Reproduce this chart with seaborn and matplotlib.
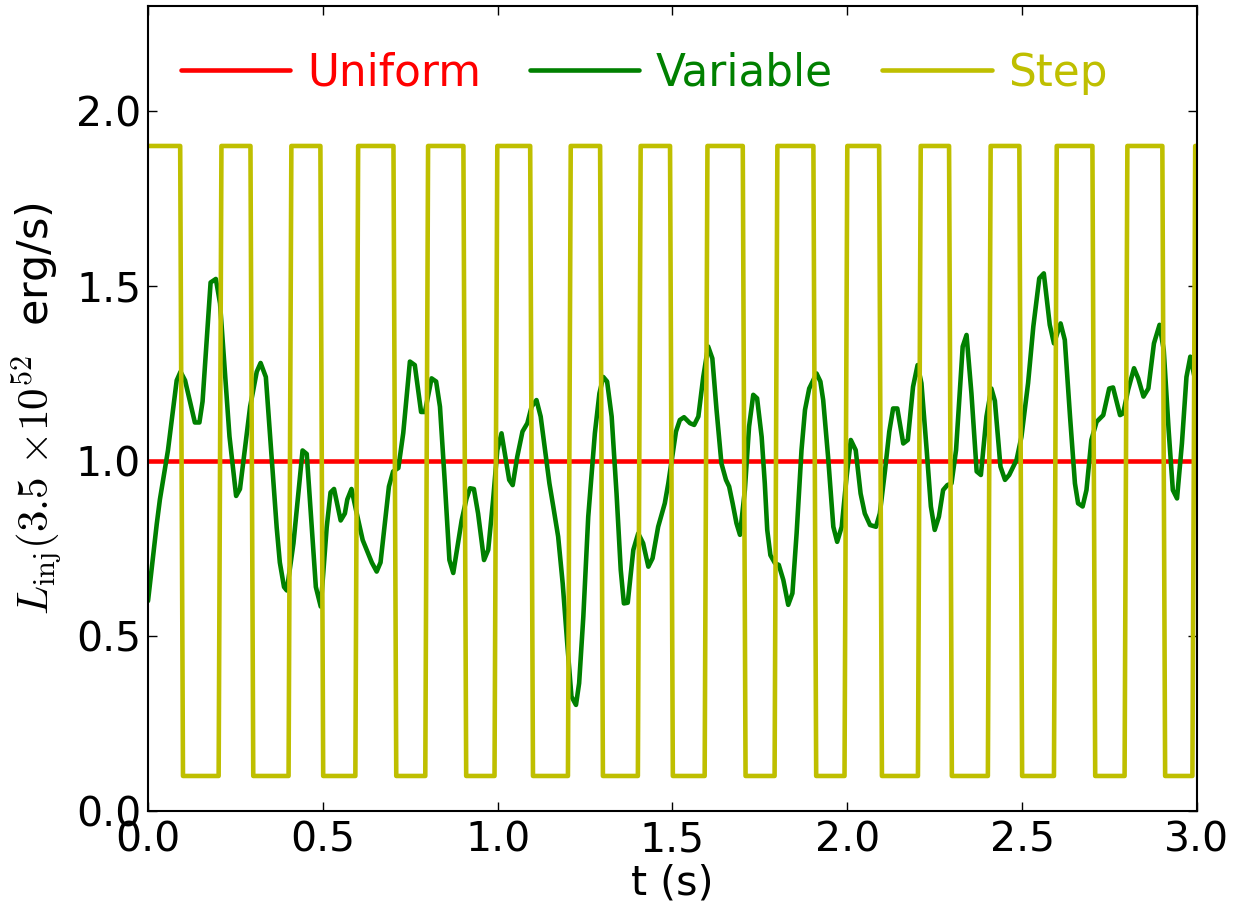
import numpy as np
import pandas as pd
import seaborn as sns
import matplotlib
matplotlib.use("Agg")
import matplotlib.pyplot as plt

# Uniform injection (constant)
uniform_t = [0.0, 3.0]
uniform_L = [1.0, 1.0]

# Variable injection, vertices
variable_t = [0.000, 0.025, 0.034, 0.057, 0.082, 0.093, 0.106, 0.134, 0.147, 0.156,
              0.179, 0.194, 0.206, 0.233, 0.252, 0.263, 0.292, 0.311, 0.322, 0.337,
              0.368, 0.377, 0.389, 0.397, 0.416, 0.442, 0.454, 0.480, 0.494, 0.511,
              0.522, 0.532, 0.551, 0.563, 0.570, 0.582, 0.597, 0.614, 0.640, 0.654,
              0.665, 0.689, 0.701, 0.716, 0.730, 0.749, 0.763, 0.781, 0.792, 0.811,
              0.824, 0.835, 0.849, 0.862, 0.873, 0.897, 0.911, 0.921, 0.932, 0.944,
              0.961, 0.973, 0.987, 0.999, 1.011, 1.033, 1.043, 1.056, 1.071, 1.085,
              1.097, 1.111, 1.123, 1.148, 1.159, 1.173, 1.186, 1.199, 1.211, 1.224,
              1.233, 1.245, 1.259, 1.278, 1.291, 1.302, 1.313, 1.326, 1.340, 1.352,
              1.361, 1.372, 1.388, 1.402, 1.416, 1.431, 1.443, 1.459, 1.478, 1.488,
              1.498, 1.510, 1.521, 1.533, 1.550, 1.562, 1.574, 1.588, 1.602, 1.614,
              1.626, 1.640, 1.653, 1.662, 1.672, 1.683, 1.693, 1.707, 1.719, 1.731,
              1.742, 1.755, 1.764, 1.771, 1.780, 1.793, 1.804, 1.817, 1.831, 1.843,
              1.855, 1.869, 1.879, 1.891, 1.912, 1.923, 1.931, 1.945, 1.960, 1.971,
              1.984, 1.998, 2.010, 2.024, 2.038, 2.050, 2.065, 2.082, 2.093, 2.108,
              2.120, 2.131, 2.143, 2.160, 2.173, 2.188, 2.201, 2.212, 2.227, 2.239,
              2.250, 2.262, 2.274, 2.286, 2.298, 2.311, 2.330, 2.341, 2.355, 2.370,
              2.382, 2.398, 2.412, 2.422, 2.438, 2.451, 2.463, 2.484, 2.498, 2.517,
              2.532, 2.549, 2.562, 2.579, 2.591, 2.610, 2.622, 2.637, 2.651, 2.660,
              2.673, 2.684, 2.698, 2.713, 2.732, 2.749, 2.760, 2.780, 2.789, 2.803,
              2.820, 2.832, 2.847, 2.861, 2.877, 2.893, 2.905, 2.919, 2.931, 2.943,
              2.957, 2.970, 2.981, 2.993, 3.000]
variable_L = [0.600, 0.820, 0.890, 1.030, 1.230, 1.255, 1.230, 1.110, 1.110, 1.170,
              1.510, 1.520, 1.450, 1.070, 0.900, 0.920, 1.155, 1.255, 1.280, 1.240,
              0.810, 0.710, 0.640, 0.630, 0.765, 1.030, 1.020, 0.640, 0.584, 0.810,
              0.910, 0.920, 0.830, 0.850, 0.890, 0.920, 0.850, 0.774, 0.710, 0.684,
              0.710, 0.927, 0.970, 0.980, 1.080, 1.284, 1.274, 1.140, 1.140, 1.236,
              1.227, 1.155, 0.936, 0.717, 0.680, 0.830, 0.893, 0.922, 0.920, 0.850,
              0.717, 0.746, 0.889, 1.031, 1.079, 0.946, 0.931, 1.012, 1.084, 1.108,
              1.155, 1.174, 1.127, 0.936, 0.870, 0.784, 0.650, 0.479, 0.327, 0.303,
              0.365, 0.555, 0.840, 1.079, 1.193, 1.240, 1.227, 1.127, 0.907, 0.689,
              0.593, 0.595, 0.746, 0.793, 0.765, 0.698, 0.722, 0.812, 0.879, 0.936,
              1.003, 1.084, 1.117, 1.125, 1.108, 1.103, 1.127, 1.240, 1.327, 1.293,
              1.146, 0.993, 0.946, 0.927, 0.879, 0.822, 0.789, 0.917, 1.098, 1.189,
              1.179, 1.069, 0.936, 0.803, 0.731, 0.708, 0.703, 0.660, 0.589, 0.622,
              0.793, 1.031, 1.146, 1.207, 1.250, 1.227, 1.174, 1.012, 0.812, 0.769,
              0.812, 0.955, 1.060, 1.031, 0.907, 0.850, 0.817, 0.812, 0.850, 0.974,
              1.084, 1.150, 1.150, 1.050, 1.060, 1.212, 1.274, 1.222, 1.031, 0.870,
              0.803, 0.841, 0.917, 0.931, 0.936, 1.031, 1.327, 1.360, 1.193, 0.970,
              0.960, 1.127, 1.207, 1.172, 0.984, 0.946, 0.960, 1.003, 1.069, 1.222,
              1.384, 1.522, 1.536, 1.389, 1.336, 1.393, 1.346, 1.127, 0.936, 0.879,
              0.870, 0.917, 1.060, 1.112, 1.131, 1.207, 1.210, 1.131, 1.136, 1.203,
              1.265, 1.236, 1.184, 1.207, 1.336, 1.389, 1.317, 1.088, 0.917, 0.893,
              1.050, 1.240, 1.298, 1.240, 1.200]

# Step injection: levels and switching times (edge centres)
step_high = 1.9
step_low = 0.1
step_fall = [0.096, 0.297, 0.497, 0.706, 0.906, 1.097, 1.297, 1.497, 1.705, 1.907,
             2.095, 2.295, 2.496, 2.705, 2.905]
step_rise = [0.206, 0.406, 0.597, 0.797, 0.995, 1.205, 1.405, 1.596, 1.796, 1.996,
             2.206, 2.406, 2.595, 2.797, 2.991]
half_edge = 0.004  # sampled edges are slightly slanted

step_t = [0.0]
step_L = [step_high]
for tf, tr in zip(step_fall, step_rise):
    step_t += [tf - half_edge, tf + half_edge, tr - half_edge, tr + half_edge]
    step_L += [step_high, step_low, step_low, step_high]
step_t.append(3.0)
step_L.append(step_high)

RED = '#ff0000'
GREEN = '#008000'
YELLOW = '#bfbf00'

sns.set_theme(style="white")
plt.rcParams['font.family'] = ['DejaVu Sans']
plt.rcParams['mathtext.fontset'] = 'cm'
plt.rcParams['text.color'] = 'black'
plt.rcParams['axes.labelcolor'] = 'black'
plt.rcParams['xtick.color'] = 'black'
plt.rcParams['ytick.color'] = 'black'

FS = 29.5
LEG_FS = 31.5

fig = plt.figure(figsize=(12.48, 9.05), dpi=100)
ax = fig.add_axes([0.1186, 0.1039, 0.8405, 0.8895])

sns.lineplot(x=uniform_t, y=uniform_L, ax=ax, color=RED, lw=3.3, label='Uniform',
             sort=False, estimator=None)
sns.lineplot(x=variable_t, y=variable_L, ax=ax, color=GREEN, lw=3.3, label='Variable',
             sort=False, estimator=None)
sns.lineplot(x=step_t, y=step_L, ax=ax, color=YELLOW, lw=3.3, label='Step',
             sort=False, estimator=None)

ax.set_xlim(0, 3.0)
ax.set_ylim(0, 2.3)
ax.set_xticks(np.arange(0, 3.01, 0.5))
ax.set_yticks(np.arange(0, 2.01, 0.5))
ax.set_xticklabels(['0.0', '0.5', '1.0', '1.5', '2.0', '2.5', '3.0'])
ax.set_yticklabels(['0.0', '0.5', '1.0', '1.5', '2.0'])

for s in ax.spines.values():
    s.set_color('black')
    s.set_linewidth(1.5)
ax.tick_params(axis='both', which='major', direction='in', length=6.5, width=1,
               color='black', labelcolor='black', labelsize=FS, top=True, right=True,
               bottom=True, left=True, pad=5)
ax.tick_params(axis='x', pad=7)

ax.set_xlabel('t (s)', fontsize=FS, labelpad=2)
ax.set_ylabel(r'$L_{\rm inj} (3.5\ {\times}10^{52}$  erg/s)', fontsize=31, labelpad=8)

leg = ax.legend(loc='upper left', ncol=3, frameon=False, fontsize=LEG_FS,
                handlelength=2.5, handletextpad=0.38, columnspacing=1.12,
                bbox_to_anchor=(-0.006, 0.992))
for txt, line in zip(leg.get_texts(), leg.get_lines()):
    txt.set_color(line.get_color())
    line.set_linewidth(3.3)

fig.savefig('out.png', dpi=100)
